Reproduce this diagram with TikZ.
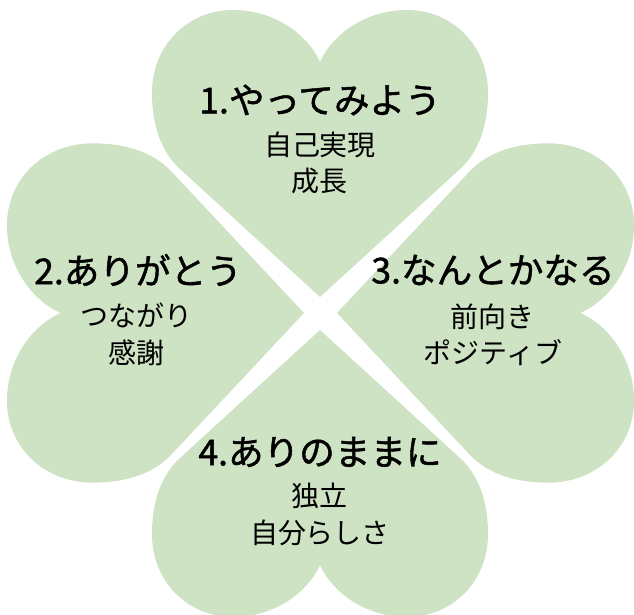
\documentclass[tikz,border=0pt]{standalone}
\usepackage{fontspec}
\setmainfont{Noto Sans CJK JP}
\newfontfamily\titlefont[FakeBold=1.3]{Noto Sans CJK JP}
\definecolor{leaf}{RGB}{206,226,196}
\tikzset{
  leafshape/.style={fill=leaf, draw=none},
  titletext/.style={font=\titlefont\fontsize{17.8}{22}\selectfont, inner sep=0pt},
  subtext/.style={font=\fontsize{14}{17}\selectfont, inner sep=0pt},
  leafheart/.pic={
    \fill[leafshape] (0,0) -- (-140,-128)
      .. controls (-162,-148) and (-168,-178) .. (-168,-204)
      .. controls (-168,-252) and (-132,-287) .. (-87,-287)
      .. controls (-45,-287) and (-12,-262) .. (0,-235)
      .. controls (12,-262) and (45,-287) .. (87,-287)
      .. controls (132,-287) and (168,-252) .. (168,-204)
      .. controls (168,-178) and (162,-148) .. (140,-128)
      -- cycle;
  }
}
\begin{document}
\begin{tikzpicture}[x=0.5pt,y=-0.5pt]
\useasboundingbox (0,0) rectangle (634,615);
% leaves
\path (320,297) pic {leafheart};
\path (304,313) pic[rotate=90, yscale=1.035, xscale=1.01] {leafheart};
\path (337,313) pic[rotate=-90, yscale=1.035, xscale=1.01] {leafheart};
\path (320,330) pic[rotate=180] {leafheart};
% texts
\node[titletext] (t1) at (320,100) {1.やってみよう};
\node[subtext] (s1a) at (320,145) {自己実現};
\node[subtext] (s1b) at (320,181) {成長};
\node[titletext] (t2) at (138,270) {2.ありがとう};
\node[subtext] (s2a) at (137,315) {つながり};
\node[subtext] (s2b) at (137,353) {感謝};
\node[titletext] (t3) at (493,270) {3.なんとかなる};
\node[subtext] (s3a) at (493,317) {前向き};
\node[subtext] (s3b) at (493,353) {ポジティブ};
\node[titletext] (t4) at (320,452) {4.ありのままに};
\node[subtext] (s4a) at (320,496) {独立};
\node[subtext] (s4b) at (320,533) {自分らしさ};
\end{tikzpicture}
\end{document}
